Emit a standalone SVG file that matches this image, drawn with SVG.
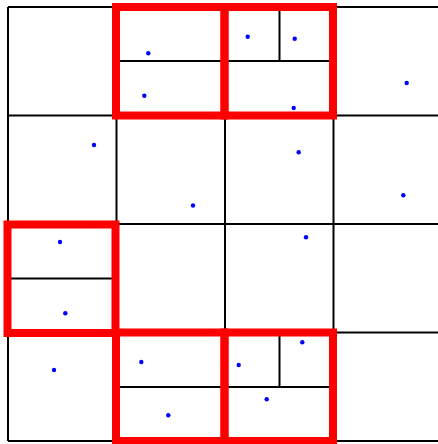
<svg xmlns="http://www.w3.org/2000/svg" width="438" height="444" viewBox="0 0 438 444">
<style>
.g{stroke:#000;stroke-width:2;fill:none}
.r{stroke:#ff0000;stroke-width:8;fill:none}
.p{fill:#0000ff}
</style>
<rect width="438" height="444" fill="#fff"/>
<g id="grid" class="g">
<path d="M8 7V441M116.5 7V441M225 7V441M333.5 7V441M442 7V441"/>
<path d="M8 7H442M8 115.5H442M8 224H442M8 332.5H442M8 441H442"/>
</g>
<g id="subdivisions" class="g">
<path d="M116.5 61H225M225 61H333.5M279.5 7V61"/>
<path d="M8 278.5H116.5"/>
<path d="M116.5 387H225M225 387H333.5M279.5 332.5V387"/>
</g>
<g id="highlights" class="r">
<rect x="116" y="7" width="108.5" height="108.5"/>
<rect x="224.5" y="7" width="108.5" height="108.5"/>
<rect x="7.5" y="224.5" width="108" height="108.5"/>
<rect x="116" y="332.5" width="108.5" height="108.5"/>
<rect x="224.5" y="332.5" width="108.5" height="108.5"/>
</g>
<g id="points" class="p">
<circle cx="148.3" cy="53.3" r="2.2"/>
<circle cx="144.3" cy="95.7" r="2.2"/>
<circle cx="247.7" cy="36.7" r="2.2"/>
<circle cx="294.7" cy="38.7" r="2.2"/>
<circle cx="293.7" cy="108" r="2.2"/>
<circle cx="406.7" cy="83" r="2.2"/>
<circle cx="94" cy="145" r="2.2"/>
<circle cx="193" cy="205.5" r="2.2"/>
<circle cx="298.7" cy="152.3" r="2.2"/>
<circle cx="403.3" cy="195.3" r="2.2"/>
<circle cx="60" cy="242" r="2.2"/>
<circle cx="306" cy="237.3" r="2.2"/>
<circle cx="65.3" cy="313.3" r="2.2"/>
<circle cx="54" cy="370" r="2.2"/>
<circle cx="141.3" cy="362" r="2.2"/>
<circle cx="168.3" cy="415.3" r="2.2"/>
<circle cx="238.7" cy="365" r="2.2"/>
<circle cx="302.3" cy="342.3" r="2.2"/>
<circle cx="266.7" cy="399.3" r="2.2"/>
</g>
</svg>
